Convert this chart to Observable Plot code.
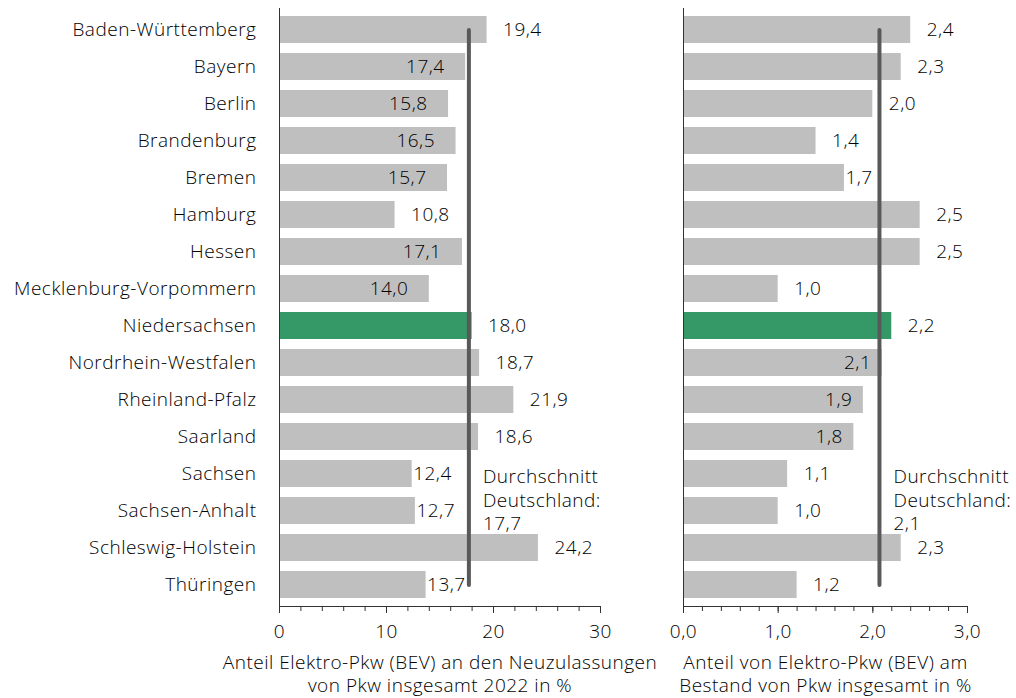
<!DOCTYPE html>
<html>
<head>
<meta charset="utf-8">
<script src="https://cdn.jsdelivr.net/npm/d3@7"></script>
<script src="https://cdn.jsdelivr.net/npm/@observablehq/plot@0.6"></script>
<style>
  html, body { margin: 0; padding: 0; background: #fff; }
  #chart { position: relative; width: 1016px; height: 698px; overflow: hidden; background: #fff; }
  #chart svg { position: absolute; top: 0; left: 0; }
</style>
</head>
<body>
<div id="chart"></div>
<script>
// ---- data ----
const states = ["Baden-Württemberg","Bayern","Berlin","Brandenburg","Bremen","Hamburg","Hessen",
  "Mecklenburg-Vorpommern","Niedersachsen","Nordrhein-Westfalen","Rheinland-Pfalz","Saarland",
  "Sachsen","Sachsen-Anhalt","Schleswig-Holstein","Thüringen"];
const newRegShare = [19.4,17.4,15.8,16.5,15.7,10.8,17.1,14.0,18.0,18.7,21.9,18.6,12.4,12.7,24.2,13.7];
const stockShare  = [2.4,2.3,2.0,1.4,1.7,2.5,2.5,1.0,2.2,2.1,1.9,1.8,1.1,1.0,2.3,1.2];
// label placement relative to bar end: "in", "out", "edge"
const newRegLabelSide = ["out","in","in","in","in","out","in","in","out","out","out","out","edge","edge","out","edge"];
const stockLabelSide  = ["out","out","out","out","edge","out","out","out","out","in","in","in","out","out","out","out"];
const avgNewReg = 17.7;
const avgStock = 2.07;
const highlightState = "Niedersachsen";
const annotationRow = "Sachsen";
const newRegTitle = "Anteil Elektro-Pkw (BEV) an den Neuzulassungen\nvon Pkw insgesamt 2022 in %";
const stockTitle = "Anteil von Elektro-Pkw (BEV) am\nBestand von Pkw insgesamt in %";

const fmt1 = v => d3.format(".1f")(v).replace(".", ",");
const fmt0 = v => d3.format("d")(v);
const FS = 19;
const INK = "#000";

function panel({values, sides, avg, xMax, major, minor, tickFmt, labelFmt, title, showY, marginLeft, marginRight, inPad, outPad}) {
  const data = states.map((s, i) => ({state: s, value: values[i], side: sides[i]}));
  const ann = [{x: avg, y: annotationRow, t: "Durchschnitt\nDeutschland:\n" + labelFmt(avg)}];
  return Plot.plot({
    width: 1016, height: 698,
    marginLeft, marginRight, marginTop: 8, marginBottom: 92,
    style: {fontFamily: "'Open Sans', sans-serif", fontSize: FS + "px", fontWeight: 300, letterSpacing: "0.5px", color: INK, background: "transparent", overflow: "visible"},
    x: {domain: [0, xMax], axis: null},
    y: {type: "band", domain: states, paddingInner: 0.28, paddingOuter: 0.14, axis: null},
    marks: [
      Plot.barX(data, {x: "value", y: "state", fill: d => d.state === highlightState ? "#349966" : "#bfbfbf"}),
      Plot.frame({anchor: "left", stroke: "#333", strokeWidth: 1}),
      Plot.frame({anchor: "bottom", stroke: "#333", strokeWidth: 1}),
      Plot.axisX({ticks: minor, tickSize: 5, tickFormat: () => "", stroke: "#333"}),
      Plot.axisX({ticks: major, tickSize: 7, tickPadding: 11, tickFormat: tickFmt, stroke: "#333", fill: INK, fontSize: FS}),
      showY ? Plot.axisY({tickSize: 0, tickPadding: 23, fontSize: FS, fill: INK}) : null,
      Plot.line([{x: avg, y: states[0]}, {x: avg, y: states[states.length - 1]}],
        {x: "x", y: "y", stroke: "#595959", strokeWidth: 4, strokeLinecap: "round"}),
      Plot.text(data.filter(d => d.side === "out"), {x: "value", y: "state", text: d => labelFmt(d.value), textAnchor: "start", dx: outPad, fontSize: FS, fill: INK}),
      Plot.text(data.filter(d => d.side === "in"), {x: "value", y: "state", text: d => labelFmt(d.value), textAnchor: "end", dx: -inPad, fontSize: FS, fill: INK}),
      Plot.text(data.filter(d => d.side === "edge"), {x: "value", y: "state", text: d => labelFmt(d.value), textAnchor: "start", dx: 1, fontSize: FS, fill: INK}),
      Plot.text(ann, {x: "x", y: "y", text: "t", textAnchor: "start", lineAnchor: "top", lineHeight: 1.25, dx: 14, dy: -8, fontSize: FS, fill: INK}),
      Plot.text([title], {frameAnchor: "bottom", text: d => d, lineAnchor: "top", lineHeight: 1.26, dy: 45, fontSize: FS, fill: INK})
    ]
  });
}

const left = panel({
  values: newRegShare, sides: newRegLabelSide, avg: avgNewReg, xMax: 30,
  major: [0, 10, 20, 30], minor: d3.range(0, 31, 2), tickFmt: fmt0, labelFmt: fmt1,
  title: newRegTitle, showY: true, marginLeft: 279, marginRight: 416, inPad: 21, outPad: 16
});
const right = panel({
  values: stockShare, sides: stockLabelSide, avg: avgStock, xMax: 3,
  major: [0, 1, 2, 3], minor: d3.range(0, 3.01, 0.2), tickFmt: fmt1, labelFmt: fmt1,
  title: stockTitle, showY: false, marginLeft: 683, marginRight: 49, inPad: 11, outPad: 16
});
document.getElementById("chart").append(left, right);
</script>
</body>
</html>
